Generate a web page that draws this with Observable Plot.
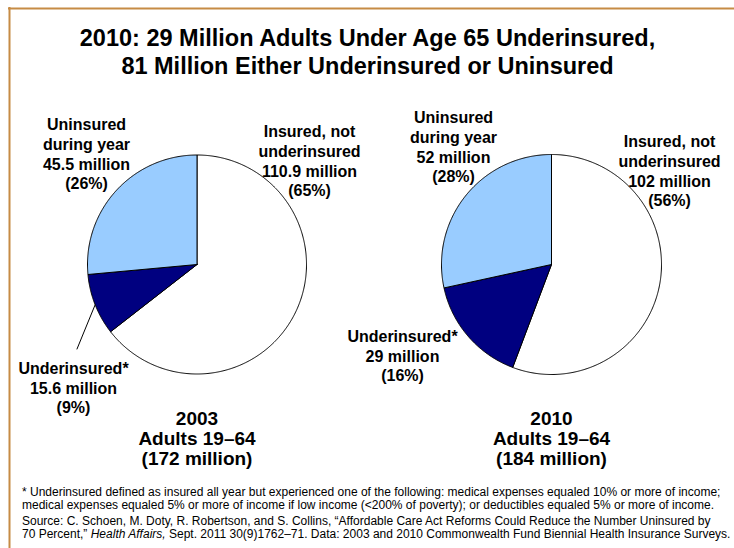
<!DOCTYPE html>
<html>
<head>
<meta charset="utf-8">
<script src="https://cdn.jsdelivr.net/npm/d3@7"></script>
<script src="https://cdn.jsdelivr.net/npm/@observablehq/plot@0.6"></script>
<style>
  html, body { margin: 0; padding: 0; background: #ffffff; }
  #wrap { position: relative; width: 734px; height: 548px; overflow: hidden; font-family: "Liberation Sans", Arial, sans-serif; }
  #chart { position: absolute; left: 0; top: 0; }
  #note { position: absolute; left: 22px; top: 486px; width: 712px; font-size: 12px; line-height: 13.3px; color: #000; }
  #note p { margin: 0; white-space: nowrap; }
  #note p + p { margin-top: 2.5px; }
</style>
</head>
<body>
<div id="wrap">
  <div id="chart"></div>
  <div id="note">
    <p>* Underinsured defined as insured all year but experienced one of the following: medical expenses equaled 10% or more of income;<br>medical expenses equaled 5% or more of income if low income (&lt;200% of poverty); or deductibles equaled 5% or more of income.</p>
    <p>Source: C. Schoen, M. Doty, R. Robertson, and S. Collins, “Affordable Care Act Reforms Could Reduce the Number Uninsured by<br>70 Percent,” <i>Health Affairs,</i> Sept. 2011 30(9)1762–71. Data: 2003 and 2010 Commonwealth Fund Biennial Health Insurance Surveys.</p>
  </div>
</div>
<script>
// ---- data ----
const titleLines = ["2010: 29 Million Adults Under Age 65 Underinsured,", "81 Million Either Underinsured or Uninsured"];
const categories = ["Insured, not underinsured", "Underinsured*", "Uninsured during year"];
const categoryLabels = ["Insured, not\nunderinsured", "Underinsured*", "Uninsured\nduring year"];
const years = ["2003", "2010"];
const values2003 = [110.9, 15.6, 45.5];
const values2010 = [102, 29, 52];
const shares2003 = ["65%", "9%", "26%"];
const shares2010 = ["56%", "16%", "28%"];
const totals = ["172 million", "184 million"];
const groupLabel = "Adults 19–64";

// ---- layout (positions & styles) ----
const W = 734, H = 548;
const pies = [
  {cx: 196.5, cy: 264, r: 109.5, values: values2003, shares: shares2003,
   labelPos: [[309, 160], [73, 387], [86, 153]], captionPos: [196.5, 438]},
  {cx: 551, cy: 264, r: 110, values: values2010, shares: shares2010,
   labelPos: [[669, 170], [402, 355], [453, 146]], captionPos: [551, 438]}
];
const colors = ["#ffffff", "#000080", "#99ccff"];

const pieGen = d3.pie().sort(null).startAngle(0).endAngle(2 * Math.PI);
const wedgePts = [];
const labels = [];
const captions = [];
const leaders = [];
pies.forEach((p, pi) => {
  const arcs = pieGen(p.values);
  arcs.forEach((a, ci) => {
    const key = years[pi] + "-" + ci;
    const pt = (ang) => ({x: p.cx + p.r * Math.sin(ang), y: p.cy - p.r * Math.cos(ang)});
    wedgePts.push({key, category: categories[ci], x: p.cx, y: p.cy});
    const n = Math.max(2, Math.ceil((a.endAngle - a.startAngle) / (Math.PI / 360)));
    for (let k = 0; k <= n; k++) {
      const ang = a.startAngle + (a.endAngle - a.startAngle) * k / n;
      wedgePts.push({key, category: categories[ci], ...pt(ang)});
    }
    wedgePts.push({key, category: categories[ci], x: p.cx, y: p.cy});
    labels.push({
      x: p.labelPos[ci][0], y: p.labelPos[ci][1],
      text: `${categoryLabels[ci]}\n${p.values[ci]} million\n(${p.shares[ci]})`
    });
    // leader line for the small 2003 underinsured wedge
    if (pi === 0 && ci === 1) {
      const mid = (a.startAngle + a.endAngle) / 2;
      const e = pt(mid);
      leaders.push({key: "l", x: p.labelPos[ci][0] + 3.5, y: p.labelPos[ci][1] - 38.5});
      leaders.push({key: "l", x: e.x, y: e.y});
    }
  });
  captions.push({x: p.captionPos[0], y: p.captionPos[1], text: `${years[pi]}\n${groupLabel}\n(${totals[pi]})`});
});

const chart = Plot.plot({
  width: W, height: H,
  margin: 0,
  x: {domain: [0, W], range: [0, W], axis: null},
  y: {domain: [0, H], range: [0, H], axis: null},
  color: {domain: categories, range: colors},
  style: {background: "transparent", fontFamily: "'Liberation Sans', Arial, sans-serif", color: "#000"},
  marks: [
    Plot.ruleY([8], {x1: 8, x2: W, stroke: "#c68b45", strokeWidth: 2}),
    Plot.ruleX([9], {y1: 7, y2: H, stroke: "#c68b45", strokeWidth: 2}),
    Plot.text([titleLines.join("\n")], {x: W / 2, y: 50.5, text: d => d, fontSize: 23.5, fontWeight: "bold", lineHeight: 1.19, textAnchor: "middle", lineAnchor: "middle", fill: "#000"}),
    Plot.line(wedgePts, {x: "x", y: "y", z: "key", fill: "category", stroke: "#000", strokeWidth: 1, curve: "linear", strokeLinejoin: "round"}),
    Plot.line(leaders, {x: "x", y: "y", z: "key", stroke: "#000", strokeWidth: 1}),
    Plot.text(labels, {x: "x", y: "y", text: "text", fontSize: 16, fontWeight: "bold", lineHeight: 1.22, textAnchor: "middle", lineAnchor: "middle", fill: "#000"}),
    Plot.text(captions, {x: "x", y: "y", text: "text", fontSize: 19, fontWeight: "bold", lineHeight: 1.04, textAnchor: "middle", lineAnchor: "middle", fill: "#000"})
  ]
});
document.getElementById("chart").appendChild(chart);
</script>
</body>
</html>
